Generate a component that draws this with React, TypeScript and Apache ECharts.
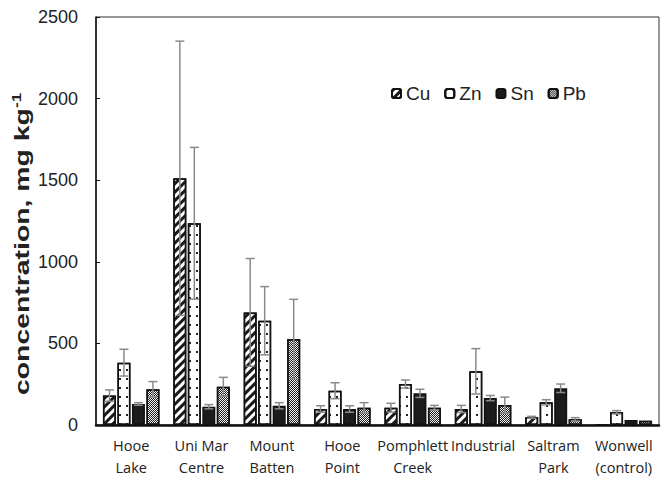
import React, { useEffect, useRef } from "react";
import * as echarts from "echarts";

const categories = [
  "Hooe\nLake",
  "Uni Mar\nCentre",
  "Mount\nBatten",
  "Hooe\nPoint",
  "Pomphlett\nCreek",
  "Industrial",
  "Saltram\nPark",
  "Wonwell\n(control)",
];
const metals = ["Cu", "Zn", "Sn", "Pb"];
const cuValues = [180, 1512, 690, 98, 106, 98, 47, 0];
const znValues = [382, 1236, 639, 210, 251, 329, 139, 78];
const snValues = [129, 112, 118, 98, 194, 165, 225, 30];
const pbValues = [219, 235, 527, 106, 106, 122, 35, 26];
const cuErrors = [35, 840, 330, 20, 27, 22, 6, 0];
const znErrors = [82, 465, 209, 49, 25, 139, 16, 10];
const snErrors = [8, 13, 19, 20, 25, 16, 26, 0];
const pbErrors = [47, 57, 243, 31, 14, 49, 10, 0];
const yTicks = { min: 0, max: 2500, interval: 500 };

const BAR_W = 13;
const BAR_GAP_PX = 1.5;

export default function App() {
  const ref = useRef<HTMLDivElement>(null);
  useEffect(() => {
    if (!ref.current) return;
    const chart = echarts.init(ref.current, null, { renderer: "svg" });
    const values = [cuValues, znValues, snValues, pbValues];
    const errors = [cuErrors, znErrors, snErrors, pbErrors];
    const styles: any[] = [
      {
        color: "#ffffff",
        borderColor: "#111",
        borderWidth: 1.5,
        decal: {
          symbol: "rect",
          color: "#1a1a1a",
          dashArrayX: [1, 0],
          dashArrayY: [2.2, 2.3],
          rotation: -Math.PI / 4,
        },
      },
      {
        color: "#ffffff",
        borderColor: "#111",
        borderWidth: 1.5,
        decal: {
          symbol: "rect",
          symbolSize: 1,
          color: "#222",
          dashArrayX: [[2, 5]],
          dashArrayY: [2, 7],
          rotation: 0,
        },
      },
      { color: "#1c1c1c", borderColor: "#111", borderWidth: 1.5 },
      {
        color: "#f4f4f4",
        borderColor: "#111",
        borderWidth: 1.5,
        decal: {
          symbol: "rect",
          color: "#222",
          dashArrayX: [[1, 1], [0, 1, 1, 0]],
          dashArrayY: [1, 0],
          rotation: 0,
        },
      },
    ];
    const barSeries = metals.map((m, i) => ({
      name: m,
      type: "bar",
      data: values[i],
      barWidth: BAR_W,
      barGap: (BAR_GAP_PX / BAR_W) * 100 + "%",
      itemStyle: styles[i],
    }));
    const errSeries = metals.map((m, i) => ({
      name: m + " err",
      type: "custom",
      z: 5,
      data: values[i].map((v, k) => [k, v, errors[i][k]]),
      renderItem: (params: any, api: any) => {
        const c = api.value(0);
        const v = api.value(1);
        const e = api.value(2);
        if (!e || e <= 0) return null;
        const off = (i - 1.5) * (BAR_W + BAR_GAP_PX);
        const top = api.coord([c, v + e]);
        const bot = api.coord([c, Math.max(0, v - e)]);
        const x = top[0] + off;
        const half = 4.5;
        const st = { stroke: "#8a8a8a", lineWidth: 1.5 };
        return {
          type: "group",
          children: [
            { type: "line", shape: { x1: x, y1: top[1], x2: x, y2: bot[1] }, style: st },
            { type: "line", shape: { x1: x - half, y1: top[1], x2: x + half, y2: top[1] }, style: st },
            { type: "line", shape: { x1: x - half, y1: bot[1], x2: x + half, y2: bot[1] }, style: st },
          ],
        };
      },
      encode: { x: 0, y: 1 },
      silent: true,
    }));
    chart.setOption({
      animation: false,
      backgroundColor: "#ffffff",
      grid: {
        left: 96,
        right: 3,
        top: 17,
        bottom: 55,
        show: true,
        borderColor: "#333",
        borderWidth: 1,
      },
      legend: {
        data: metals,
        left: 386,
        top: 79,
        itemWidth: 9,
        itemHeight: 9,
        itemGap: 14,
        textStyle: { fontFamily: "Liberation Sans, Arial", fontSize: 19, color: "#222" },
      },
      xAxis: {
        type: "category",
        data: categories,
        axisLine: { lineStyle: { color: "#111", width: 2.5 } },
        axisTick: { show: false },
        axisLabel: {
          fontFamily: "Open Sans",
          fontSize: 14.5,
          color: "#222",
          lineHeight: 22,
          margin: 9,
          interval: 0,
        },
      },
      yAxis: {
        type: "value",
        min: yTicks.min,
        max: yTicks.max,
        interval: yTicks.interval,
        axisLine: { show: true, lineStyle: { color: "#111", width: 1.5 } },
        axisTick: { show: true, inside: true, length: 4, lineStyle: { color: "#111" } },
        splitLine: { show: false },
        axisLabel: {
          fontFamily: "Liberation Sans, Arial",
          fontSize: 18,
          color: "#222",
          margin: 18,
          formatter: (v: number) => String(v),
        },
      },
      graphic: [
        {
          type: "text",
          x: 22,
          y: 244,
          rotation: Math.PI / 2,
          scaleX: 1.42,
          style: {
            text: "{a|concentration, mg kg}{b|-1}",
            textAlign: "center",
            textVerticalAlign: "middle",
            fill: "#222",
            rich: {
              a: { fontFamily: "Liberation Sans, Arial", fontWeight: "bold", fontSize: 20, fill: "#222", lineHeight: 22 },
              b: { fontFamily: "Liberation Sans, Arial", fontWeight: "bold", fontSize: 12, fill: "#222", verticalAlign: "top", lineHeight: 22 },
            },
          },
        },
      ],
      series: [...barSeries, ...errSeries],
    });
    return () => chart.dispose();
  }, []);
  return (
    <div
      ref={ref}
      style={{ position: "absolute", left: 0, top: 0, width: 662, height: 480 }}
    />
  );
}
